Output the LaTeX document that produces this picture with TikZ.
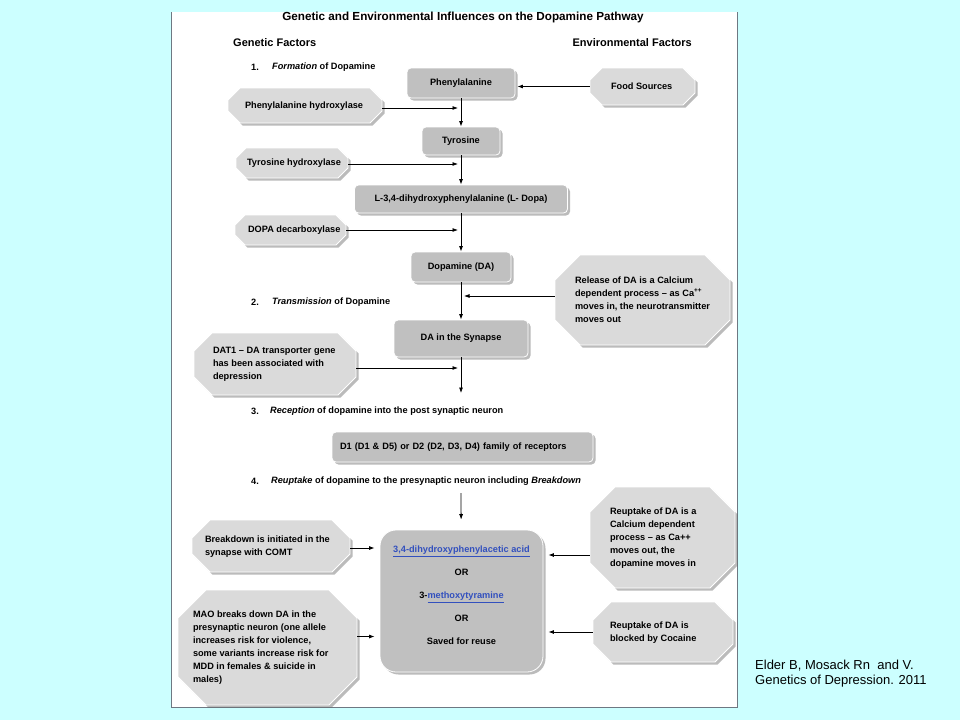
\documentclass[tikz,border=0pt]{standalone}
\usepackage{fontspec}
\setmainfont{Liberation Sans}
\usetikzlibrary{shadows,arrows.meta}
\definecolor{bgcyan}{RGB}{204,255,255}
\definecolor{octfill}{RGB}{218,218,218}
\definecolor{boxfill}{RGB}{192,192,192}
\definecolor{shadowc}{RGB}{105,105,105}
\definecolor{linkblue}{RGB}{50,80,190}
\definecolor{panelline}{RGB}{110,120,130}
\newcommand\octbox[8]{%
  \pgfmathsetmacro\octw{#4/2}%
  \pgfmathsetmacro\octh{#5/2}%
  \pgfmathsetmacro\octtw{#4-2*#7}%
  \begin{scope}[shift={(#2,#3)}]
    \fill[shadowc,opacity=0.45,shift={(2.5,2.5)}]
      (-\octw+#6,-\octh) -- (\octw-#6,-\octh) -- (\octw,-\octh+#6) -- (\octw,\octh-#6)
      -- (\octw-#6,\octh) -- (-\octw+#6,\octh) -- (-\octw,\octh-#6) -- (-\octw,-\octh+#6) -- cycle;
    \filldraw[fill=octfill,draw=white,line width=0.8pt]
      (-\octw+#6,-\octh) -- (\octw-#6,-\octh) -- (\octw,-\octh+#6) -- (\octw,\octh-#6)
      -- (\octw-#6,\octh) -- (-\octw+#6,\octh) -- (-\octw,\octh-#6) -- (-\octw,-\octh+#6) -- cycle;
  \end{scope}
  \node[octtxt, minimum width=#4pt, minimum height=#5pt, inner xsep=#7pt] (#1) at (#2,#3)
    {\makebox[\octtw pt][l]{\begin{tabular}{@{}l@{}}#8\end{tabular}}};
}
\begin{document}
\begin{tikzpicture}[x=1pt,y=-1pt,
  arr/.style={-{Latex[length=5.5pt,width=4pt]}, line width=0.8pt, black},
  body/.style={font=\fontsize{9.2}{13}\selectfont\bfseries, inner sep=0pt},
  head/.style={font=\fontsize{11}{13}\selectfont\bfseries, inner sep=0pt},
  octtxt/.style={rectangle, inner ysep=0pt, font=\fontsize{9.2}{13}\selectfont\bfseries},
  bx/.style={rectangle, rounded corners=4pt, fill=boxfill, draw=white, line width=0.8pt,
    drop shadow={shadow xshift=2.5pt, shadow yshift=-2.5pt, fill=shadowc, opacity=0.45},
    inner sep=0pt, font=\fontsize{9.2}{13}\selectfont\bfseries}]
\fill[bgcyan] (0,0) rectangle (960,720);
\fill[white] (171,12) rectangle (737,707);
\draw[panelline, line width=1pt] (171,12) -- (171,707) -- (737,707) -- (737,12);

% headings
\node[font=\fontsize{11.7}{14}\selectfont\bfseries, inner sep=0pt] (title) at (463,17)
  {Genetic and Environmental Influences on the Dopamine Pathway};
\node[head, anchor=west] (gen) at (233,43) {Genetic Factors};
\node[head, anchor=east] (env) at (692,43) {Environmental Factors};

\node[body, anchor=west] (n1) at (251,67) {1.};
\node[body, anchor=west] (s1) at (272,67) {\itshape Formation\upshape{} of Dopamine};
\node[body, anchor=west] (n2) at (251,302) {2.};
\node[body, anchor=west] (s2) at (272,302) {\itshape Transmission\upshape{} of Dopamine};
\node[body, anchor=west] (n3) at (251,411) {3.};
\node[body, anchor=west] (s3) at (270,411) {\itshape Reception\upshape{} of dopamine into the post synaptic neuron};
\node[body, anchor=west] (n4) at (251,481) {4.};
\node[body, anchor=west] (s4) at (271,481) {\itshape Reuptake\upshape{} of dopamine to the presynaptic neuron including \itshape Breakdown};

% pathway boxes
\node[bx, minimum width=108pt, minimum height=30pt] (phen) at (461,83) {Phenylalanine};
\node[bx, minimum width=78pt, minimum height=28pt] (tyr) at (461,141) {Tyrosine};
\node[bx, minimum width=213pt, minimum height=28pt] (ldopa) at (461,199) {L-3,4-dihydroxyphenylalanine (L- Dopa)};
\node[bx, minimum width=100pt, minimum height=30pt] (da) at (461,267) {Dopamine (DA)};
\node[bx, minimum width=134pt, minimum height=37pt] (syn) at (461,338.5) {DA in the Synapse};
\node[bx, minimum height=30pt, text width=245pt, inner xsep=8pt, align=left] (d1) at (462.5,447)
  {D1 (D1 \& D5) or D2 (D2, D3, D4) family of receptors};
\node[bx, rounded corners=16pt, minimum width=163pt, minimum height=142pt, font=\fontsize{9.2}{23}\selectfont\bfseries] (cen) at (461.5,601)
  {\begin{tabular}{@{}c@{}}\textcolor{linkblue}{\underline{3,4-dihydroxyphenylacetic acid}}\\ OR\\ 3-\textcolor{linkblue}{\underline{methoxytyramine}}\\ OR\\ Saved for reuse\\[14pt]\end{tabular}};

% octagons
\octbox{food}{642.5}{86.5}{105}{37}{12}{21}{Food Sources}
\octbox{ph}{305}{105.5}{154}{35}{12}{17}{Phenylalanine hydroxylase}
\octbox{th}{292}{163}{112}{30}{10}{11}{Tyrosine hydroxylase}
\octbox{dd}{290.5}{230}{111}{30}{10}{13}{DOPA decarboxylase}
\octbox{rel}{642.5}{300}{175}{90}{25}{20}{Release of DA is a Calcium\\ dependent process -- as Ca\textsuperscript{++}\\ moves in, the neurotransmitter\\ moves out}
\octbox{dat}{275}{364}{162}{62}{18}{19}{DAT1 -- DA transporter gene\\ has been associated with\\ depression}
\octbox{brk}{271}{546}{158}{52}{18}{13}{Breakdown is initiated in the\\ synapse with COMT}
\octbox{mao}{267.5}{647.5}{179}{115}{28}{15}{MAO breaks down DA in the\\ presynaptic neuron (one allele\\ increases risk for violence,\\ some variants increase risk for\\ MDD in females \& suicide in\\ males)}
\octbox{reu}{662.5}{537.5}{145}{101}{25}{20}{Reuptake of DA is a\\ Calcium dependent\\ process -- as Ca++\\ moves out, the\\ dopamine moves in}
\octbox{coc}{663}{632}{140}{60}{18}{17}{Reuptake of DA is\\ blocked by Cocaine}

% junction points on the pathway line
\coordinate (j1) at (458,108);
\coordinate (j2) at (458,164);
\coordinate (j3) at (458,230);
\coordinate (j4) at (464,296);
\coordinate (j5) at (458,368);
\coordinate (e1) at (461,393);
\coordinate (t4) at (461,493);

% connectors
\draw[arr] (phen) -- (tyr);
\draw[arr] (tyr) -- (ldopa);
\draw[arr] (ldopa) -- (da);
\draw[arr] (da) -- (syn);
\draw[arr] (syn) -- (e1);
\draw[arr, shorten >=10pt] (t4) -- (cen);
\draw[arr, shorten >=2pt] (food.west) -- (food.west -| phen.east);
\draw[arr] (ph.east |- j1) -- (j1);
\draw[arr] (th.east |- j2) -- (j2);
\draw[arr] (dd.east |- j3) -- (j3);
\draw[arr] (rel.west |- j4) -- (j4);
\draw[arr] (dat.east |- j5) -- (j5);
\draw[arr, shorten >=5pt] ([yshift=-2pt]brk.east) -- ([yshift=-2pt]brk.east -| cen.west);
\draw[arr, shorten >=5pt] ([yshift=11pt]mao.east) -- ([yshift=11pt]mao.east -| cen.west);
\draw[arr, shorten >=5pt] ([yshift=-17.5pt]reu.west) -- ([yshift=-17.5pt]reu.west -| cen.east);
\draw[arr, shorten >=5pt] (coc.west) -- (coc.west -| cen.east);

% citation
\node[font=\fontsize{13}{15}\selectfont, anchor=north west, align=left, inner sep=0pt] (cite) at (755,660)
  {Elder B, Mosack Rn\ \ and V.\\ Genetics of Depression. 2011};
\end{tikzpicture}
\end{document}
